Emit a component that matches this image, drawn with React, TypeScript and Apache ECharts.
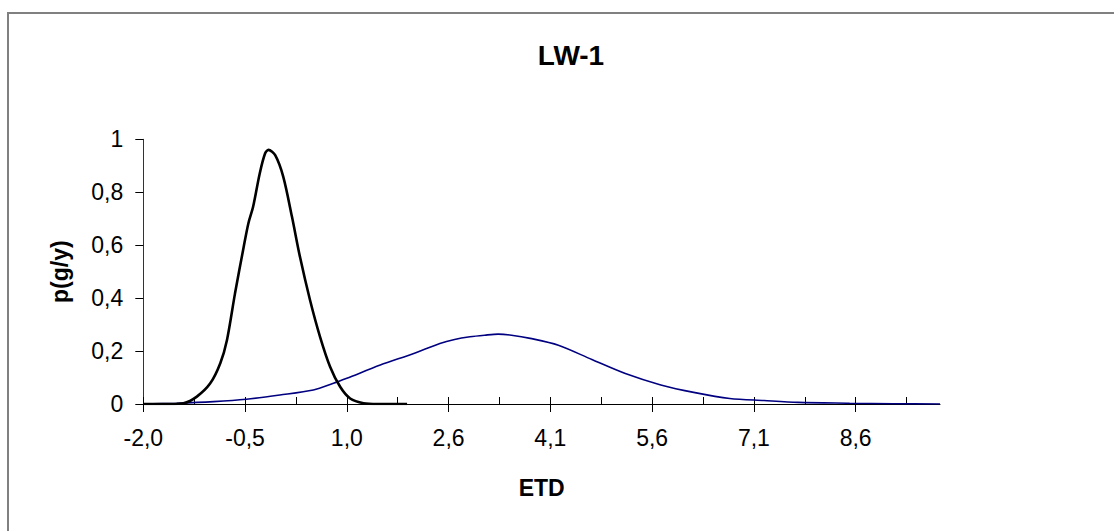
import React, { useEffect, useRef } from "react";
import * as echarts from "echarts";

const titleText = "LW-1";
const xAxisTitle = "ETD";
const yAxisTitle = "p(g/y)";

const majorTickValues = [-2.0, -0.48, 1.04, 2.56, 4.08, 5.6, 7.12, 8.64];
const minorTickValues = [-1.24, 0.28, 1.8, 3.32, 4.84, 6.36, 7.88, 9.4];
const xTickLabels = ["-2,0", "-0,5", "1,0", "2,6", "4,1", "5,6", "7,1", "8,6"];
const xMin = -2.0;
const xMax = 9.9;

const blackX = [-2.0, -1.6, -1.4, -1.2, -1.0, -0.85, -0.75, -0.63, -0.5, -0.43, -0.36, -0.26, -0.18, -0.13, -0.03, 0.09, 0.22, 0.34, 0.49, 0.64, 0.79, 0.94, 1.09, 1.29, 1.5, 1.94];
const blackY = [0, 0, 0.003, 0.028, 0.078, 0.154, 0.242, 0.418, 0.594, 0.683, 0.745, 0.872, 0.947, 0.96, 0.94, 0.859, 0.708, 0.556, 0.393, 0.254, 0.141, 0.065, 0.021, 0.003, 0, 0];

const blueX = [-2.0, -1.5, -0.95, -0.46, 0.04, 0.54, 0.84, 1.04, 1.54, 2.04, 2.43, 2.65, 2.88, 3.1, 3.3, 3.5, 3.78, 4.2, 4.7, 5.2, 5.73, 6.24, 6.76, 7.27, 7.78, 8.55, 9.2, 9.9];
const blueY = [0, 0.003, 0.009, 0.018, 0.034, 0.053, 0.078, 0.097, 0.147, 0.191, 0.229, 0.244, 0.254, 0.26, 0.264, 0.26, 0.248, 0.222, 0.168, 0.115, 0.072, 0.043, 0.021, 0.013, 0.006, 0.003, 0.001, 0];

const FONT = "'Liberation Sans', Arial, sans-serif";

export default function App() {
  const ref = useRef<HTMLDivElement>(null);
  useEffect(() => {
    if (!ref.current) return;
    const chart = echarts.init(ref.current, null, { renderer: "svg" });
    const pairs = (xs: number[], ys: number[]) => xs.map((x, i) => [x, ys[i]]);
    chart.setOption({
      animation: false,
      backgroundColor: "#ffffff",
      textStyle: { fontFamily: FONT },
      title: {
        text: titleText,
        left: 566,
        top: 36,
        textAlign: "center",
        textStyle: { fontFamily: FONT, fontSize: 28, fontWeight: "bold", color: "#000" },
      },
      graphic: [
        {
          type: "rect",
          shape: { x: 8, y: 13, width: 1200, height: 600 },
          style: { fill: "none", stroke: "#808080", lineWidth: 2 },
          silent: true,
        },
      ],
      grid: { left: 143.3, right: 174, top: 139.3, bottom: 127, outerBoundsMode: "none", containLabel: false },
      xAxis: [
        {
          type: "value",
          min: xMin,
          max: xMax,
          position: "bottom",
          name: xAxisTitle,
          nameLocation: "middle",
          nameGap: 72,
          nameTextStyle: { fontFamily: FONT, fontSize: 23, fontWeight: "bold", color: "#000" },
          axisLine: { show: true, onZero: false, lineStyle: { color: "#000", width: 1 } },
          axisTick: { show: true, inside: false, length: 8, customValues: majorTickValues, lineStyle: { color: "#000", width: 1 } },
          axisLabel: {
            show: true,
            margin: 22,
            customValues: majorTickValues,
            fontFamily: FONT,
            fontSize: 23,
            color: "#000",
            formatter: (v: number) => {
              const i = majorTickValues.findIndex((m) => Math.abs(m - v) < 1e-6);
              return i >= 0 ? xTickLabels[i] : "";
            },
          },
          splitLine: { show: false },
        },
        {
          type: "value",
          min: xMin,
          max: xMax,
          position: "bottom",
          axisLine: { show: false, onZero: false },
          axisTick: {
            show: true,
            inside: true,
            length: 7,
            customValues: [...majorTickValues, ...minorTickValues].sort((a, b) => a - b),
            lineStyle: { color: "#000", width: 1 },
          },
          axisLabel: { show: false },
          splitLine: { show: false },
        },
      ],
      yAxis: {
        type: "value",
        min: 0,
        max: 1,
        interval: 0.2,
        position: "left",
        name: yAxisTitle,
        nameLocation: "middle",
        nameGap: 72,
        nameRotate: 90,
        nameTextStyle: { fontFamily: FONT, fontSize: 23, fontWeight: "bold", color: "#000" },
        axisLine: { show: true, onZero: false, lineStyle: { color: "#333", width: 1 } },
        axisTick: { show: true, inside: false, length: 8, lineStyle: { color: "#000", width: 1 } },
        axisLabel: {
          margin: 20,
          fontFamily: FONT,
          fontSize: 23,
          color: "#000",
          formatter: (v: number) => String(Math.round(v * 10) / 10).replace(".", ","),
        },
        splitLine: { show: false },
      },
      series: [
        {
          type: "line",
          name: "blue",
          xAxisIndex: 0,
          data: pairs(blueX, blueY),
          smooth: 0.3,
          showSymbol: false,
          symbol: "none",
          lineStyle: { color: "#000080", width: 1.6 },
          z: 2,
        },
        {
          type: "line",
          name: "black",
          xAxisIndex: 0,
          data: pairs(blackX, blackY),
          smooth: 0.3,
          showSymbol: false,
          symbol: "none",
          lineStyle: { color: "#000000", width: 2.6 },
          z: 3,
        },
      ],
    });
    return () => chart.dispose();
  }, []);
  return (
    <div
      ref={ref}
      style={{ position: "absolute", left: 0, top: 0, width: 1114, height: 531 }}
    />
  );
}
